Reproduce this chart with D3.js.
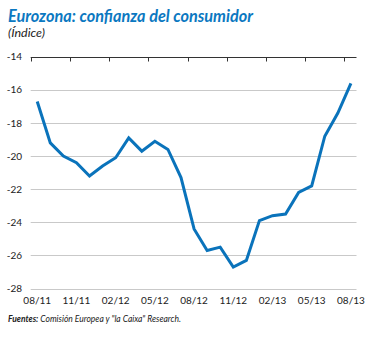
<!DOCTYPE html>
<html>
<head>
<meta charset="utf-8">
<script src="https://cdn.jsdelivr.net/npm/d3@7"></script>
<style>
  body { margin: 0; background: #fff; }
  svg { display: block; font-family: Lato, "Open Sans", sans-serif; }
  .grid line { stroke: #c9c9c9; stroke-width: 1; }
</style>
</head>
<body>
<svg id="chart" width="368" height="338"></svg>
<script>
// monthly values, 08/11 .. 08/13
var months = ["08/11","09/11","10/11","11/11","12/11","01/12","02/12","03/12","04/12","05/12","06/12","07/12",
  "08/12","09/12","10/12","11/12","12/12","01/13","02/13","03/13","04/13","05/13","06/13","07/13","08/13"];
var confianza = [-16.7, -19.2, -20.0, -20.4, -21.2, -20.6, -20.1, -18.9, -19.7, -19.1, -19.6, -21.3,
  -24.4, -25.7, -25.5, -26.7, -26.3, -23.9, -23.6, -23.5, -22.2, -21.8, -18.8, -17.4, -15.6];
var yTicks = [-14, -16, -18, -20, -22, -24, -26, -28];
var xLabels = ["08/11","11/11","02/12","05/12","08/12","11/12","02/13","05/13","08/13"];

(function() {
  var svg = d3.select("#chart");
  var plotLeft = 30.7, plotRight = 356.5, plotTop = 56.8, plotBottom = 288.5;

  var x = d3.scaleBand().domain(months).range([plotLeft, plotLeft + 13.07 * 25]);
  var y = d3.scaleLinear().domain([-28, -14]).range([plotBottom, plotTop]);

  // titles
  svg.append("text")
    .attr("x", 8).attr("y", 21.5)
    .attr("fill", "#0b78c1")
    .style("font-size", "16.5px").style("font-weight", "bold").style("font-style", "italic")
    .attr("textLength", 245).attr("lengthAdjust", "spacingAndGlyphs")
    .text("Eurozona: confianza del consumidor");

  svg.append("text")
    .attr("x", 8).attr("y", 37)
    .attr("fill", "#222")
    .style("font-size", "12px").style("font-style", "italic")
    .attr("textLength", 37).attr("lengthAdjust", "spacingAndGlyphs")
    .text("(Índice)");

  // gridlines (the top one is the axis line)
  svg.append("g").attr("class", "grid")
    .selectAll("line").data(yTicks.filter(function(d) { return d !== -14; }))
    .enter().append("line")
    .attr("x1", plotLeft).attr("x2", plotRight)
    .attr("y1", function(d) { return Math.round(y(d)) + 0.5; })
    .attr("y2", function(d) { return Math.round(y(d)) + 0.5; });

  // y labels
  svg.append("g")
    .selectAll("text").data(yTicks)
    .enter().append("text")
    .attr("x", 22).attr("y", function(d) { return y(d) + 3.5; })
    .attr("text-anchor", "end")
    .attr("fill", "#222").style("font-size", "10px")
    .text(function(d) { return d; });

  // top axis line, ticks between quarters
  var topY = Math.round(y(-14)) + 0.5;
  svg.append("line")
    .attr("x1", plotLeft).attr("x2", plotRight).attr("y1", topY).attr("y2", topY)
    .attr("stroke", "#333").attr("stroke-width", 1);

  svg.append("g")
    .selectAll("line").data(xLabels)
    .enter().append("line")
    .attr("x1", function(d) { return Math.round(x(d)) + 0.5; })
    .attr("x2", function(d) { return Math.round(x(d)) + 0.5; })
    .attr("y1", topY).attr("y2", topY + 4)
    .attr("stroke", "#333");

  // x labels
  svg.append("g")
    .selectAll("text").data(xLabels)
    .enter().append("text")
    .attr("x", function(d) { return x(d) + x.bandwidth() / 2; })
    .attr("y", 304)
    .attr("text-anchor", "middle")
    .attr("fill", "#222").style("font-size", "10px")
    .text(function(d) { return d; });

  // line
  var line = d3.line()
    .x(function(d, i) { return x(months[i]) + x.bandwidth() / 2; })
    .y(function(d) { return y(d); });

  svg.append("path")
    .datum(confianza)
    .attr("d", line)
    .attr("fill", "none")
    .attr("stroke", "#0a73bb")
    .attr("stroke-width", 3)
    .attr("stroke-linejoin", "miter");

  // source note
  var note = svg.append("text")
    .attr("x", 8).attr("y", 322)
    .attr("fill", "#222")
    .style("font-size", "9px").style("font-style", "italic")
    .attr("textLength", 173).attr("lengthAdjust", "spacingAndGlyphs");
  note.append("tspan").style("font-weight", "bold").text("Fuentes:");
  note.append("tspan").text(" Comisión Europea y \"la Caixa\" Research.");
}());
</script>
</body>
</html>
